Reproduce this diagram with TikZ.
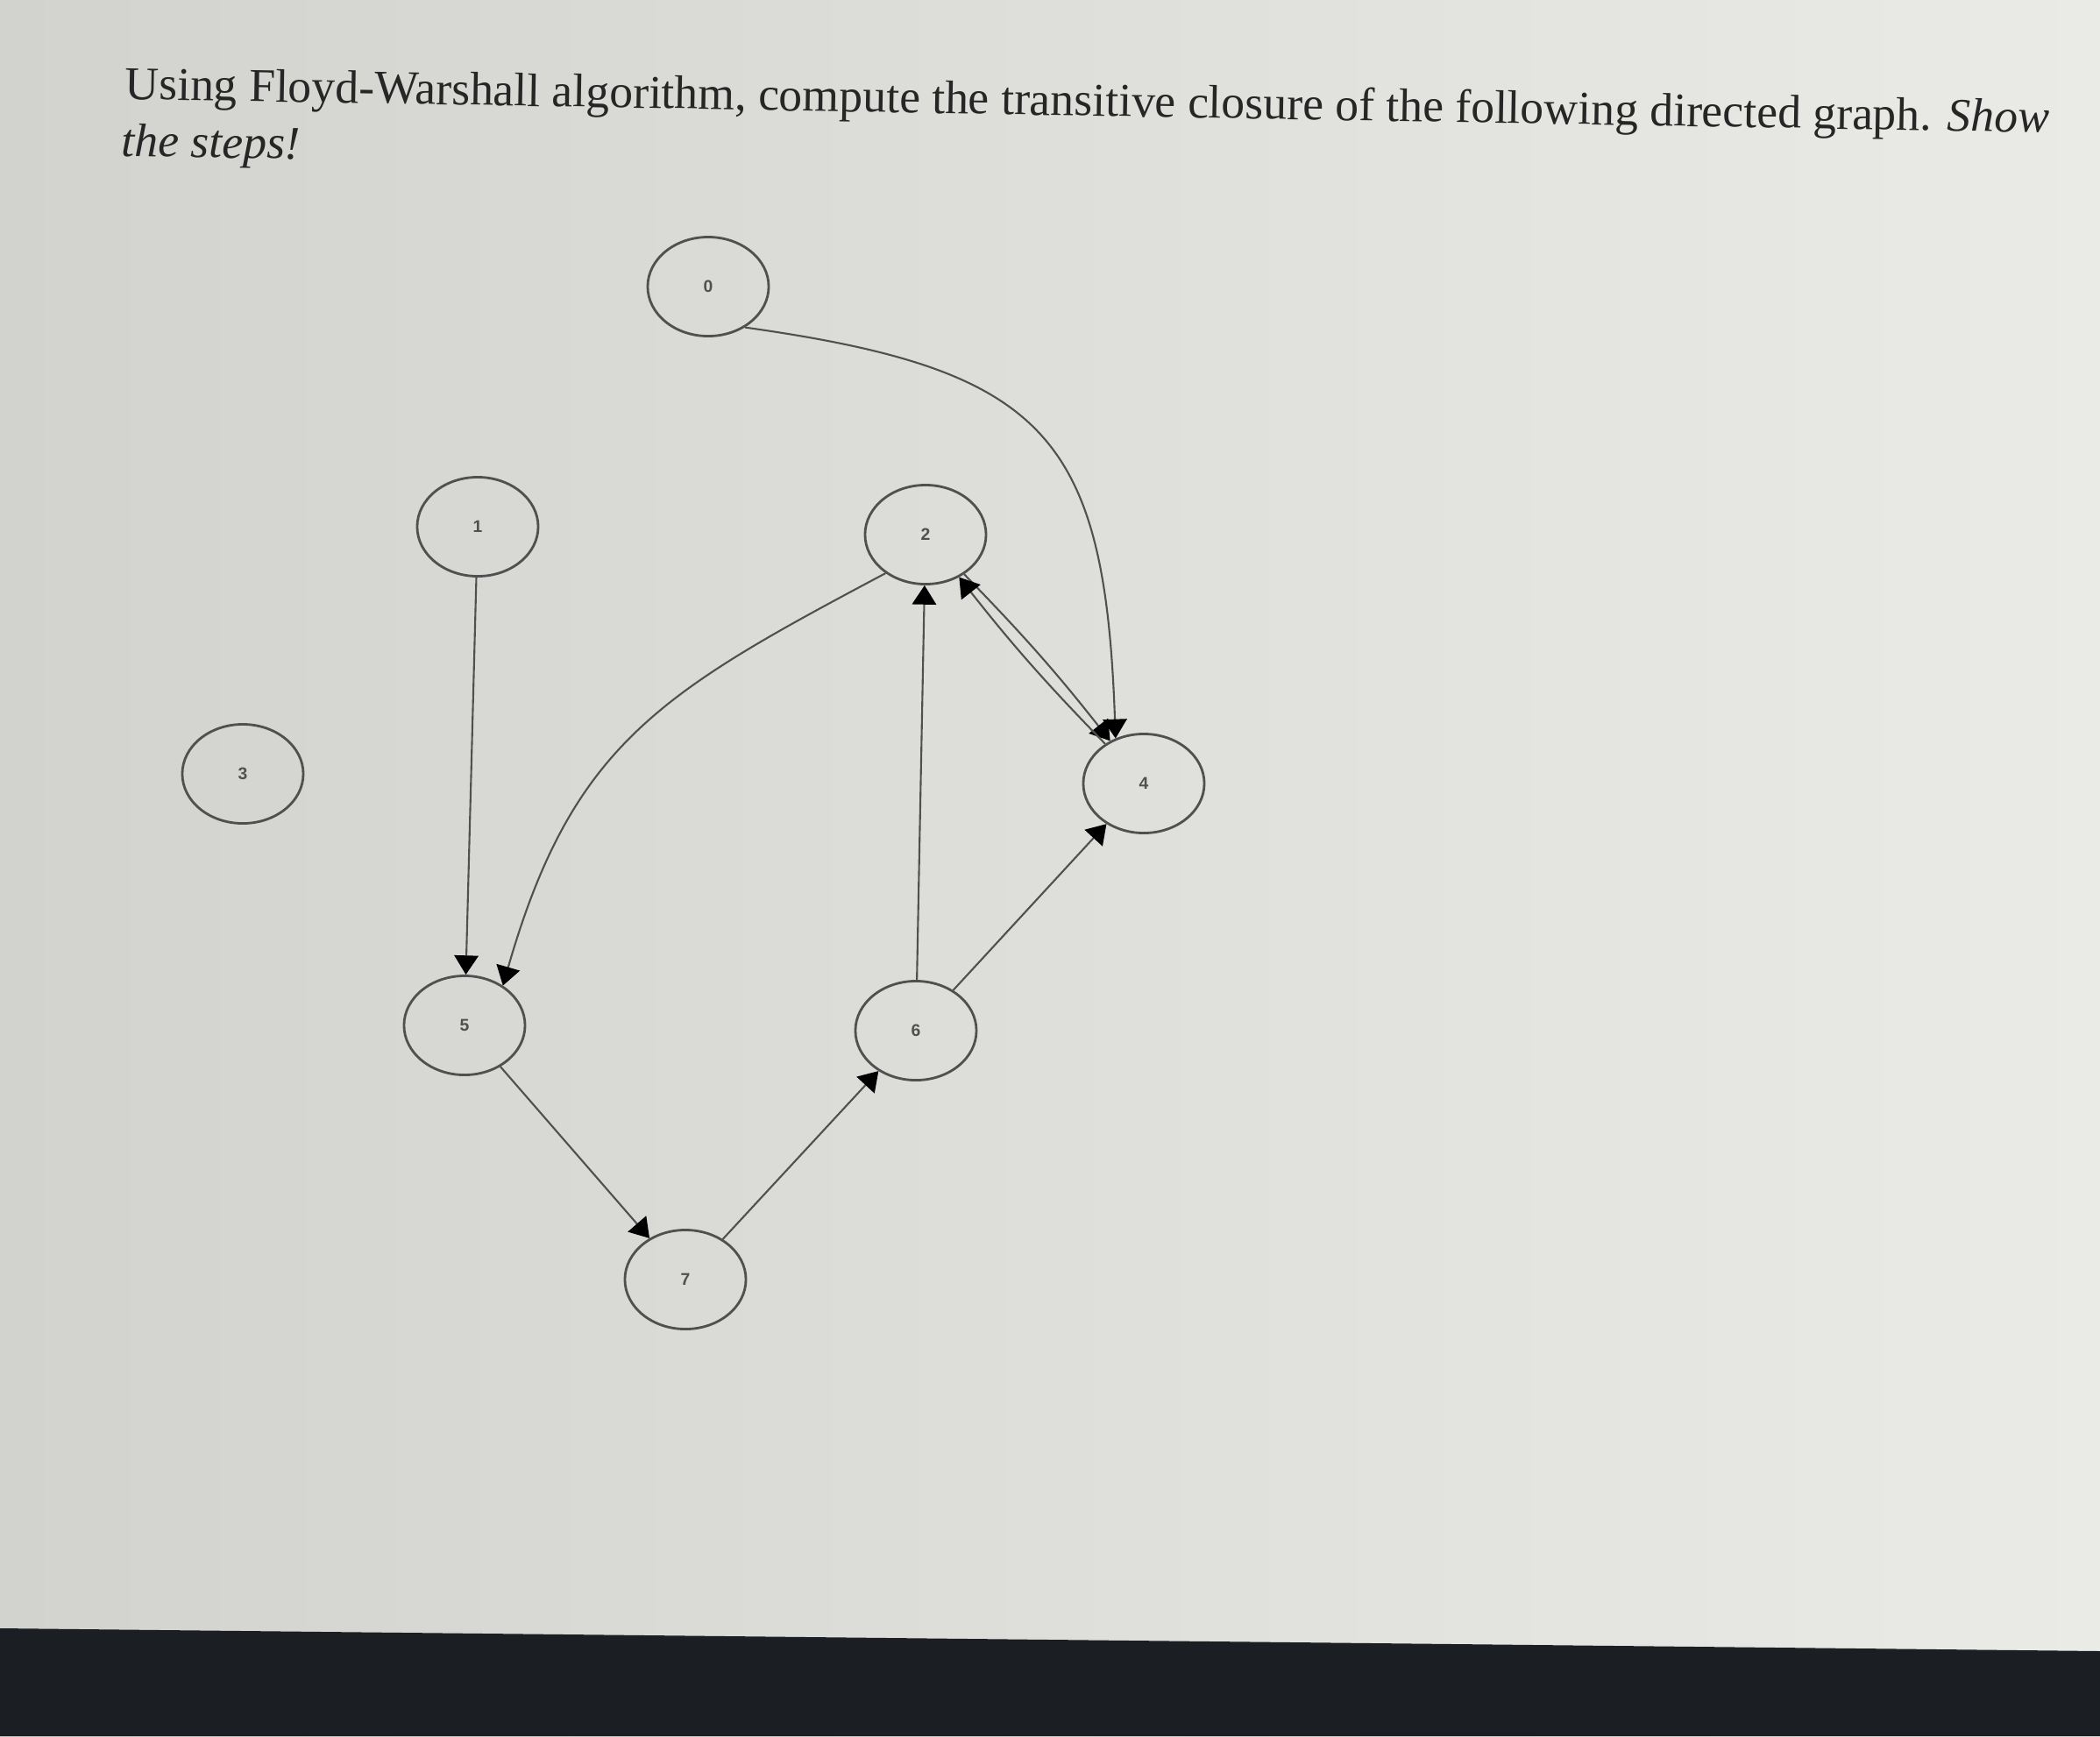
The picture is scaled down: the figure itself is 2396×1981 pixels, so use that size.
\documentclass[tikz,border=0pt]{standalone}
\usepackage{fontspec}
\setmainfont{Liberation Serif}
\setsansfont{Liberation Sans}
\usetikzlibrary{shapes.geometric,arrows.meta}
\definecolor{bgL}{RGB}{210,210,206}
\definecolor{bgR}{RGB}{234,234,231}
\definecolor{ink}{RGB}{80,80,80}
\definecolor{txt}{RGB}{38,38,38}
\definecolor{barc}{RGB}{27,30,35}
\begin{document}
\begin{tikzpicture}[x=0.01cm,y=0.01cm,
  vert/.style={ellipse,draw=ink,line width=0.8pt,minimum width=1.38cm,minimum height=1.13cm,inner sep=0pt,font=\sffamily\bfseries\fontsize{5.5}{6}\selectfont,text=ink},
  arr/.style={draw=ink,line width=0.6pt,-{Triangle[length=6.2pt,width=7.8pt,color=black]}},
  titletext/.style={anchor=base west,inner sep=0pt,rotate=-1,text=txt,font=\fontsize{15.25}{18}\selectfont}]
\useasboundingbox (0,0) rectangle (2396,-1981);
\shade[left color=bgL,right color=bgR] (0,0) rectangle (2396,-1981);
\fill[barc] (0,-1858) -- (2396,-1884) -- (2396,-1981) -- (0,-1981) -- cycle;

\node[titletext] (t1) at (142,-113) {Using Floyd-Warshall algorithm, compute the transitive closure of the following directed graph. \textit{Show}};
\node[titletext] (t2) at (138,-178) {\textit{the steps!}};

\node[vert] (n0) at (808,-327) {0};
\node[vert] (n1) at (545,-601) {1};
\node[vert] (n2) at (1056,-610) {2};
\node[vert] (n3) at (277,-883) {3};
\node[vert] (n4) at (1305,-894) {4};
\node[vert] (n5) at (530,-1170) {5};
\node[vert] (n6) at (1045,-1176) {6};
\node[vert] (n7) at (782,-1460) {7};

\draw[arr] (n1) -- (n5);
\draw[arr] (n2.224) to[out=208,in=74,looseness=1.15] (n5.46);
\draw[arr] (n6) -- (n2);
\draw[arr] (n2) to[bend left=3] (n4);
\draw[arr] (n4) to[bend left=3] (n2);
\draw[arr] (n0.-48) to[out=-8,in=92,looseness=1.4] (n4.122);
\draw[arr] (n6) -- (n4);
\draw[arr] (n5) -- (n7);
\draw[arr] (n7) -- (n6);
\end{tikzpicture}
\end{document}
